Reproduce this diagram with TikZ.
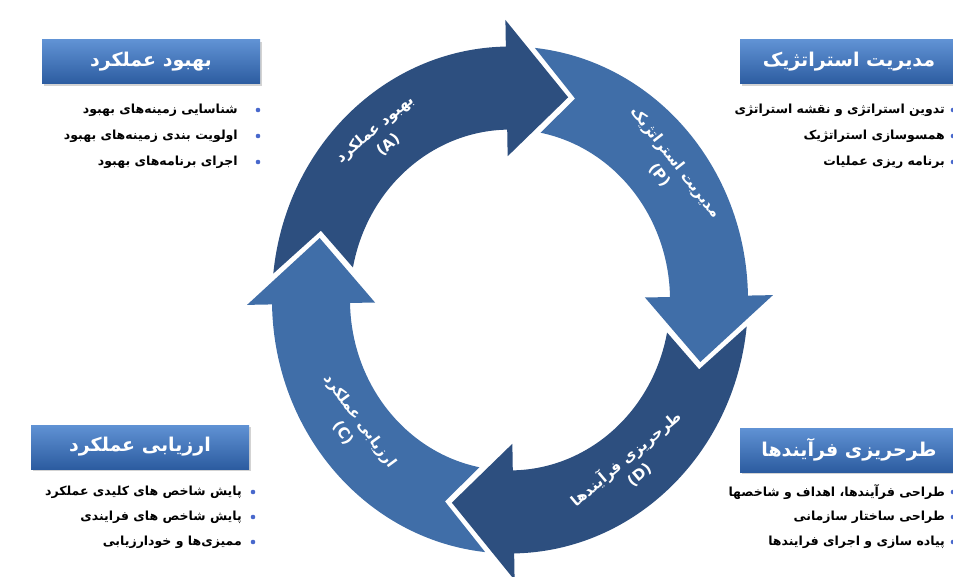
\documentclass[tikz,border=0pt]{standalone}
\usepackage{fontspec}
\usepackage{xcolor}
\usepackage{tikz}
\usetikzlibrary{shadows}
\TeXXeTstate=1
\newfontfamily\arabicfont[Script=Arabic]{DejaVu Sans}
\definecolor{ringdark}{RGB}{45,79,127}
\definecolor{ringlight}{RGB}{64,110,168}
\definecolor{boxtop}{RGB}{96,146,212}
\definecolor{boxbottom}{RGB}{44,92,160}
\definecolor{dotblue}{RGB}{72,104,204}

\begin{document}
\begin{tikzpicture}[
        x=1pt, y=1pt,
        titlebox/.style={rectangle, minimum width=218pt, minimum height=44pt, top color=boxtop, bottom color=boxbottom, drop shadow={opacity=0.35}, text=white, font=\arabicfont\bfseries\fontsize{19}{21}\selectfont},
        item/.style={anchor=east, inner sep=0pt, font=\arabicfont\bfseries\fontsize{12.5}{14}\selectfont},
        ringlabel/.style={text=white, align=center, inner sep=0pt, font=\arabicfont\bfseries\fontsize{15}{21}\selectfont}
    ]
        \useasboundingbox (0,0) rectangle (953,-577);

        % Cycle arrows
        \begin{scope}[shift={(510pt,-300pt)}, yscale=1.065]
            \fill[ringdark] (174:238pt) arc[start angle=174, end angle=91, radius=238pt] -- (91:263pt) -- (73:199pt) -- (91:135pt) -- (91:160pt) arc[start angle=91, end angle=169, radius=160pt] -- (161:200pt) -- cycle;
            \fill[ringlight] (84:238pt) arc[start angle=84, end angle=1, radius=238pt] -- (1:263pt) -- (-17:199pt) -- (1:135pt) -- (1:160pt) arc[start angle=1, end angle=79, radius=160pt] -- (71:200pt) -- cycle;
            \fill[ringdark] (-6:238pt) arc[start angle=-6, end angle=-89, radius=238pt] -- (-89:263pt) -- (-107:199pt) -- (-89:135pt) -- (-89:160pt) arc[start angle=-89, end angle=-11, radius=160pt] -- (-19:200pt) -- cycle;
            \fill[ringlight] (-96:238pt) arc[start angle=-96, end angle=-179, radius=238pt] -- (-179:263pt) -- (-197:199pt) -- (-179:135pt) -- (-179:160pt) arc[start angle=-179, end angle=-101, radius=160pt] -- (-109:200pt) -- cycle;

            \node[ringlabel, rotate=40] (lblA) at (130:200pt) {\beginR بهبود عملکرد\endR\\(A)};
            \node[ringlabel, rotate=-52] (lblP) at (38:200pt) {\beginR مدیریت استراتژیک\endR\\(P)};
            \node[ringlabel, rotate=40] (lblD) at (-52:198pt) {\beginR طرحریزی فرآیندها\endR\\(D)};
            \node[ringlabel, rotate=-54] (lblC) at (-143:198pt) {\beginR ارزیابی عملکرد\endR\\(C)};
        \end{scope}

        % Title boxes
        \node[titlebox] (improve) at (151,-62) {\beginR بهبود عملکرد\endR};
        \node[titlebox] (strategy) at (849,-62) {\beginR مدیریت استراتژیک\endR};
        \node[titlebox] (evaluate) at (140,-447) {\beginR ارزیابی عملکرد\endR};
        \node[titlebox] (design) at (849,-450) {\beginR طرحریزی فرآیندها\endR};

        % Lists
        \node[item] (improve1) at (238,-110) {\beginR شناسایی زمینه‌های بهبود\endR};
        \node[item] (improve2) at (238,-136) {\beginR اولویت بندی زمینه‌های بهبود\endR};
        \node[item] (improve3) at (238,-162) {\beginR اجرای برنامه‌های بهبود\endR};

        \node[item] (strategy1) at (945,-110) {\beginR تدوین استراتژی و نقشه استراتژی\endR};
        \node[item] (strategy2) at (945,-136) {\beginR همسوسازی استراتژیک\endR};
        \node[item] (strategy3) at (945,-162) {\beginR برنامه ریزی عملیات\endR};

        \node[item] (evaluate1) at (242,-492) {\beginR پایش شاخص های کلیدی عملکرد\endR};
        \node[item] (evaluate2) at (242,-517) {\beginR پایش شاخص های فرایندی\endR};
        \node[item] (evaluate3) at (242,-542) {\beginR ممیزی‌ها و خودارزیابی\endR};

        \node[item] (design1) at (945,-492) {\beginR طراحی فرآیندها، اهداف و شاخصها\endR};
        \node[item] (design2) at (945,-517) {\beginR طراحی ساختار سازمانی\endR};
        \node[item] (design3) at (945,-542) {\beginR پیاده سازی و اجرای فرایندها\endR};

        % Bullets
        \foreach \y in {110,136,162} {
            \fill[dotblue] (258,-\y) circle (2.3);
            \fill[dotblue] (953,-\y) circle (2.3);
        }
        \foreach \y in {492,517,542} {
            \fill[dotblue] (253,-\y) circle (2.3);
            \fill[dotblue] (953,-\y) circle (2.3);
        }
    \end{tikzpicture}
\end{document}
